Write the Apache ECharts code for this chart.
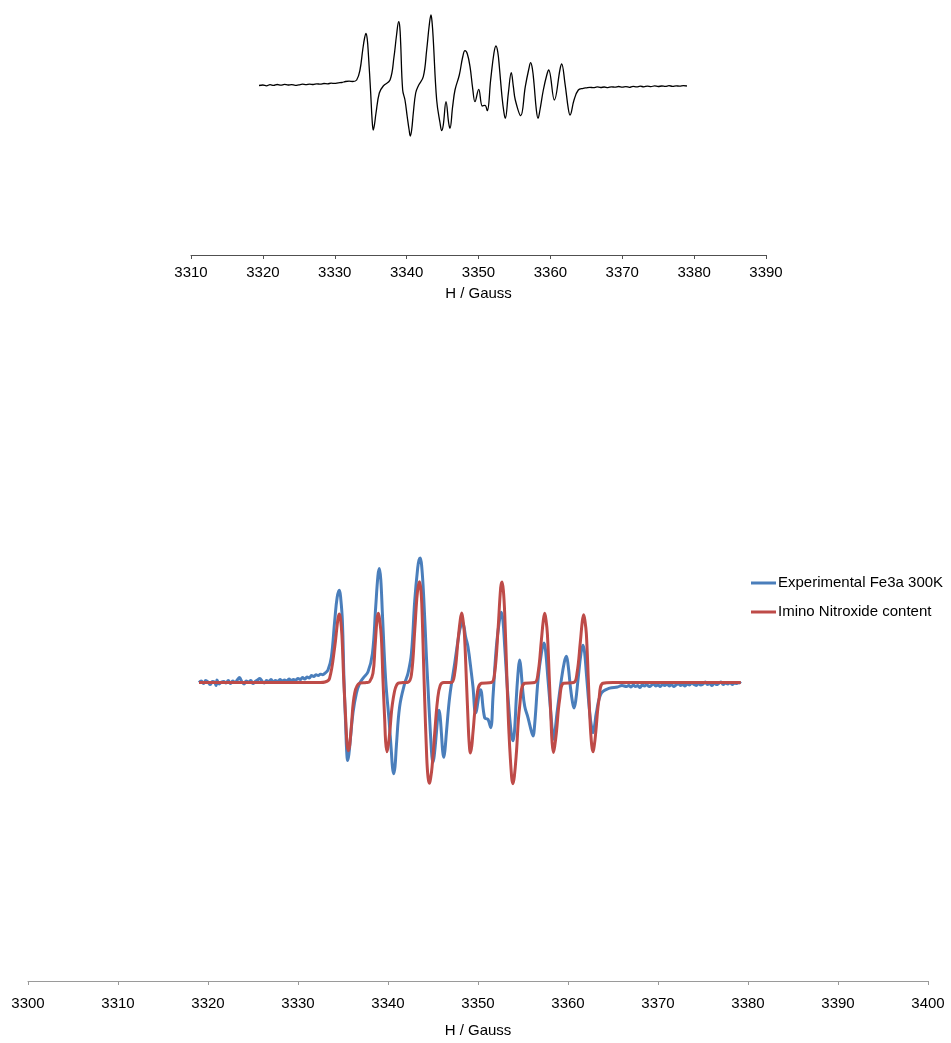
<!DOCTYPE html>
<html>
<head>
<meta charset="utf-8">
<script src="https://cdn.jsdelivr.net/npm/echarts@6/dist/echarts.min.js"></script>
<style>
html,body{margin:0;padding:0;background:#fff;overflow:hidden;}
#chart{width:951px;height:1043px;}
</style>
</head>
<body>
<div id="chart"></div>
<script>
// ---- Data (field in Gauss, intensity in arbitrary units) ----
var topTicks = [3310, 3320, 3330, 3340, 3350, 3360, 3370, 3380, 3390];
var bottomTicks = [3300, 3310, 3320, 3330, 3340, 3350, 3360, 3370, 3380, 3390, 3400];
var seriesNames = ['Experimental Fe3a 300K', 'Imino Nitroxide content'];

// Upper panel: recorded spectrum (black)
var topTrace = [
  [3319.46,-0.5],[3320.0,0],[3320.5,-0.8],[3321.0,0.3],[3321.5,-0.4],[3322.0,0.5],[3322.5,-0.2],
  [3323.0,0.6],[3323.5,0],[3324.0,0.4],[3324.5,-0.3],[3325.0,0.2],[3325.5,0.8],[3326.0,0.3],
  [3326.5,0.9],[3327.0,0.5],[3327.5,1.2],[3328.0,0.8],[3328.5,1.5],[3329.0,1.2],[3329.5,1.8],
  [3330.0,1.6],[3330.5,2.2],[3331.0,2.5],[3331.5,3.5],[3332.0,3.8],[3332.5,3.5],[3333.05,5],
  [3333.51,15],[3333.89,35],[3334.15,47],[3334.35,51.7],[3334.52,46],[3334.67,32],[3335.0,-8],
  [3335.2,-35],[3335.36,-45],[3335.52,-40],[3335.74,-28],
  [3336.2,-8],[3336.75,-1],[3337.69,5],[3338.24,28],[3338.6,50],[3338.9,63.3],[3339.05,58],[3339.17,42],[3339.45,-5],
  [3339.77,-15],[3340.09,-32],[3340.35,-45],[3340.51,-51],[3340.7,-45],[3340.93,-28],[3341.26,-8],[3341.62,-1],[3342.32,8.3],
  [3342.79,35],[3343.15,60],[3343.39,70],[3343.55,62],[3343.71,45],[3344.18,-15],[3344.65,-38],[3344.88,-45.7],[3345.1,-40],
  [3345.48,-16.7],[3345.85,-38],[3346.03,-43.3],
  [3346.4,-21.7],[3346.73,-5],[3347.33,10],[3347.8,28],[3348.12,34.3],[3348.45,31],[3348.82,18.3],[3349.19,-3.3],[3349.51,-16.7],
  [3350.03,-4.3],[3350.53,-21],[3350.9,-20.3],[3351.22,-25.7],[3351.69,5],[3352.15,32],[3352.43,39],[3352.68,33],[3352.9,18.3],
  [3353.27,-11.7],[3353.55,-28],[3353.73,-33.3],[3354.15,-8.3],[3354.56,12.3],[3354.85,-1.7],[3355.12,-15],
  [3355.87,-30.7],[3356.51,-1.7],[3357.0,16],[3357.26,22.3],[3357.5,16],[3357.72,1.7],[3358.05,-25],[3358.28,-33.3],[3358.55,-25],[3359.02,-5],
  [3359.5,10],[3359.77,15],[3360.55,-15],[3361.35,16],[3361.57,21],[3362.03,1.7],[3362.5,-24],[3362.73,-30],[3363.29,-15],[3363.89,-5],
  [3364.58,-3.3],[3365.0,-2.8],[3365.5,-2.3],[3366.0,-2.7],[3366.5,-1.9],[3367.0,-2.5],[3367.5,-2.0],
  [3368.0,-2.6],[3368.5,-1.8],[3369.0,-2.2],[3369.5,-1.5],[3370.0,-2.1],[3370.5,-1.6],[3371.0,-2.3],
  [3371.5,-1.4],[3372.0,-1.9],[3372.5,-1.2],[3373.0,-1.8],[3373.5,-1.1],[3374.0,-1.6],[3374.5,-0.9],
  [3375.0,-1.5],[3375.5,-1.0],[3376.0,-1.4],[3376.5,-0.7],[3377.0,-1.3],[3377.5,-0.8],[3378.0,-1.2],
  [3378.5,-0.6],[3379.0,-1.0]
];

// Lower panel: experimental spectrum (blue)
var expTrace = [
  [3319.0,0],[3319.25,1.5],[3319.5,-1],[3319.75,2],[3320.0,0.5],[3320.25,-2],[3320.5,1],[3320.75,0],
  [3320.9,-3],[3321.0,2.5],[3321.25,-1.5],[3321.5,0.5],[3321.75,1],[3322.0,-0.5],[3322.25,2],[3322.5,-1],
  [3322.75,1.5],[3323.0,0],[3323.25,2.5],[3323.5,5],[3323.75,1],[3324.0,-1.5],[3324.25,1.5],[3324.5,0.5],
  [3324.75,2],[3325.0,-1],[3325.25,1],[3325.5,2.5],[3325.75,4],[3326.0,1.5],[3326.25,-0.5],[3326.5,2],
  [3326.75,1],[3327.0,3],[3327.25,0.5],[3327.5,2],[3327.75,1],[3328.0,3],[3328.25,1.5],[3328.5,2.5],
  [3328.75,1.5],[3329.0,3.5],[3329.25,2],[3329.5,3],[3329.75,2.5],[3330.0,4],[3330.25,3],[3330.5,5],
  [3330.75,3.5],[3331.0,5.5],[3331.25,4.5],[3331.5,7],[3331.75,6],[3332.0,8],[3332.25,7],[3332.5,8.5],
  [3332.75,8],[3333.0,9.5],[3333.33,12.7],[3333.71,26],[3334.08,62.7],[3334.35,86],[3334.6,93.3],[3334.75,85],
  [3334.93,62.7],[3335.11,2.7],[3335.3,-44],[3335.4,-68],[3335.52,-79],[3335.65,-73],[3335.82,-57.3],[3336.11,-30.7],[3336.49,-10.7],
  [3336.86,-0.7],[3337.22,4.3],[3337.78,11],[3338.27,29.3],[3338.63,76],[3338.88,108],[3339.04,115.3],[3339.2,104],[3339.38,69.3],
  [3339.74,2.7],[3340.11,-37.3],[3340.38,-70.7],[3340.5,-86],[3340.63,-92.3],[3340.78,-85],[3340.93,-64],[3341.3,-24],[3341.86,-0.7],
  [3342.22,9.3],[3342.6,29.3],[3342.97,82.7],[3343.3,116],[3343.45,124],[3343.58,126],[3343.75,117],[3343.97,86],[3344.27,26],
  [3344.44,-4],[3344.71,-50.7],[3344.88,-75],[3345.0,-80.7],[3345.15,-73],[3345.38,-50.7],[3345.55,-33],[3345.67,-28],[3345.8,-35],
  [3345.93,-50.7],[3346.08,-70],[3346.19,-75.7],[3346.32,-69],
  [3346.49,-50.7],[3346.86,-14],[3347.41,19.3],[3347.89,49.3],[3348.1,58],[3348.27,61],[3348.45,56],[3348.63,46],[3348.89,36],
  [3349.27,9.3],[3349.44,-4],[3349.74,-30.7],[3350.27,-7.3],[3350.74,-35.7],[3351.11,-37.3],[3351.41,-45.7],
  [3351.67,-14],[3352.04,36],[3352.4,64],[3352.6,71],[3352.78,62],[3352.97,36],[3353.33,-14],[3353.7,-52],[3353.89,-59],[3354.05,-50],[3354.27,-14],
  [3354.5,15],[3354.63,22.7],[3354.76,15],[3354.93,-4],[3355.19,-24],[3355.56,-35.7],[3355.95,-50],[3356.11,-54],[3356.3,-42],[3356.67,2.7],[3357.04,29.3],
  [3357.33,40],[3357.5,33],[3357.78,2.7],[3358.15,-37.3],[3358.3,-53],[3358.41,-57.3],[3358.55,-50],[3358.78,-30.7],[3359.26,2.7],[3359.6,21],[3359.82,26.7],
  [3360.02,17],[3360.26,-4],[3360.5,-20],[3360.67,-25.7],[3360.85,-19],[3361.11,2.7],[3361.45,30],[3361.67,37.7],[3361.85,30],[3362.04,9.3],[3362.41,-30.7],
  [3362.62,-45],[3362.78,-50.7],[3362.95,-44],
  [3363.15,-30.7],[3363.71,-10.7],[3364.63,-5.7],[3365.5,-4.5],[3366.0,-3],[3366.5,-4],[3366.75,-3],
  [3367.0,-4.5],[3367.25,-2.5],[3367.5,-4],[3367.75,-3],[3368.0,-5],[3368.25,-2.5],[3368.5,-3.5],
  [3368.75,-2],[3369.0,-4],[3369.25,-3],[3369.5,-1.5],[3369.75,-3.5],[3370.0,-2.5],[3370.25,-4],
  [3370.5,-2],[3370.75,-3],[3371.0,-1.5],[3371.25,-3.5],[3371.5,-2],[3371.75,-4],[3372.0,-2.5],
  [3372.25,-1],[3372.5,-3],[3372.75,-2],[3373.0,-3.5],[3373.25,-1.5],[3373.5,-2.5],[3373.75,0],
  [3374.0,-2],[3374.25,-3],[3374.5,-1],[3374.75,-2.5],[3375.0,-1.5],[3375.25,0.5],[3375.5,-2],
  [3375.75,-1],[3376.0,-3],[3376.25,-0.5],[3376.5,-2],[3376.75,-1],[3377.0,0.5],[3377.25,-2],
  [3377.5,-0.5],[3377.75,-1.5],[3378.0,0],[3378.25,-2],[3378.5,-0.5],[3378.75,-1],[3379.0,0],[3379.2,-1]
];

// Lower panel: simulated imino nitroxide spectrum (red)
var simTrace = [
  [3319.0,0],[3325.0,0],[3332.5,0],[3333.0,0.5],[3333.5,4],[3334.08,36],[3334.35,58],[3334.47,66],[3334.6,69.3],
  [3334.73,64],[3334.88,48],[3335.08,3],[3335.3,-37],[3335.45,-62],[3335.6,-69],[3335.75,-63],[3335.93,-44],[3336.3,-10.7],[3336.86,-0.7],
  [3337.6,0],[3337.96,1],[3338.33,9.3],[3338.56,36],[3338.78,64],[3338.93,70],[3339.08,63],[3339.26,46],[3339.44,2.7],
  [3339.63,-37],[3339.74,-60],[3339.89,-70],[3340.04,-63],[3340.19,-50.7],[3340.56,-17.3],[3341.11,-0.7],[3341.67,0],
  [3342.22,0.3],[3342.6,7.7],[3342.97,52.7],[3343.2,85],[3343.35,97],[3343.5,102],[3343.65,94],[3343.75,80],[3343.89,40],
  [3344.05,-10],[3344.3,-75],[3344.45,-96],[3344.6,-102],[3344.75,-96],[3344.9,-85],[3345.2,-50],[3345.5,-18],[3345.8,-3],
  [3346.2,0],[3347.04,0],[3347.41,9.3],[3347.78,42.7],[3348.04,64],[3348.19,70.3],[3348.34,63],[3348.49,49.3],[3348.71,2.7],
  [3348.89,-37.3],[3349.01,-60],[3349.16,-71.3],[3349.31,-64],[3349.44,-50.7],[3349.82,-17.3],[3350.38,-0.7],[3351.49,0],
  [3351.85,9.3],[3352.22,52.7],[3352.52,96],[3352.67,101.7],[3352.82,93],[3352.97,69.3],[3353.22,2.7],[3353.44,-50.7],
  [3353.74,-96],[3353.89,-102.3],[3354.04,-95],[3354.27,-70.7],[3354.63,-24],[3355.19,-0.7],[3356.3,0],[3356.67,9.3],
  [3357.04,42.7],[3357.26,63],[3357.41,70],[3357.56,63],[3357.71,49.3],[3357.93,2.7],[3358.11,-37.3],[3358.23,-60],[3358.38,-70.7],
  [3358.53,-64],[3358.71,-50.7],[3359.07,-17.3],[3359.52,-0.7],[3360.63,0],[3361.0,9.3],[3361.37,41],[3361.59,62],
  [3361.74,68.7],[3361.89,62],[3362.04,49.3],[3362.26,2.7],[3362.44,-37.3],[3362.63,-63],[3362.78,-70],[3362.93,-63],[3363.08,-50.7],
  [3363.44,-17.3],[3363.89,-0.7],[3365.0,0],[3379.2,0]
];

var chart = echarts.init(document.getElementById('chart'), null, {renderer: 'canvas'});
var sans = "'Liberation Sans', Arial, sans-serif";
function plain(v) { return String(v); }

var option = {
  backgroundColor: '#ffffff',
  animation: false,
  legend: {
    data: seriesNames,
    orient: 'vertical',
    left: 746,
    top: 568,
    icon: 'rect',
    itemWidth: 25,
    itemHeight: 3,
    itemGap: 9,
    textStyle: {fontFamily: sans, fontSize: 15, color: '#000', lineHeight: 20, padding: [0,0,0,-3]}
  },
  grid: [
    {left: 191, width: 575, top: 5, height: 250, containLabel: false},
    {left: 28, width: 900, top: 390, height: 598, containLabel: false}
  ],
  xAxis: [
    {
      gridIndex: 0, type: 'value', min: topTicks[0], max: topTicks[topTicks.length-1], interval: 10,
      name: 'H / Gauss', nameLocation: 'middle', nameGap: 31,
      nameTextStyle: {fontFamily: sans, fontSize: 15, color: '#000'},
      axisLine: {onZero: false, lineStyle: {color: '#505050', width: 1}},
      axisTick: {show: true, inside: false, length: 4, lineStyle: {color: '#505050'}},
      axisLabel: {fontFamily: sans, fontSize: 15, color: '#000', margin: 10, formatter: plain},
      splitLine: {show: false}
    },
    {
      gridIndex: 1, type: 'value', min: bottomTicks[0], max: bottomTicks[bottomTicks.length-1], interval: 10,
      name: 'H / Gauss', nameLocation: 'middle', nameGap: 42,
      nameTextStyle: {fontFamily: sans, fontSize: 15, color: '#000'},
      axisLine: {onZero: false, lineStyle: {color: '#9a9a9a', width: 1}},
      axisTick: {show: true, inside: false, length: 4, lineStyle: {color: '#9a9a9a'}},
      axisLabel: {fontFamily: sans, fontSize: 15, color: '#000', margin: 15, formatter: plain},
      splitLine: {show: false}
    }
  ],
  yAxis: [
    {gridIndex: 0, type: 'value', min: -170, max: 80, show: false, splitLine: {show: false}},
    {gridIndex: 1, type: 'value', min: -302, max: 296, show: false, splitLine: {show: false}}
  ],
  series: [
    {
      type: 'line', xAxisIndex: 0, yAxisIndex: 0, data: topTrace,
      symbol: 'none', smooth: 0.4,
      lineStyle: {color: '#000', width: 1.3}, z: 2
    },
    {
      name: seriesNames[0], type: 'line', xAxisIndex: 1, yAxisIndex: 1, data: expTrace,
      symbol: 'none', smooth: 0.4,
      itemStyle: {color: '#4A7EBB'},
      lineStyle: {color: '#4A7EBB', width: 3}, z: 2
    },
    {
      name: seriesNames[1], type: 'line', xAxisIndex: 1, yAxisIndex: 1, data: simTrace,
      symbol: 'none', smooth: 0.4,
      itemStyle: {color: '#BE4B48'},
      lineStyle: {color: '#BE4B48', width: 3}, z: 3
    }
  ]
};
chart.setOption(option);
</script>
</body>
</html>
